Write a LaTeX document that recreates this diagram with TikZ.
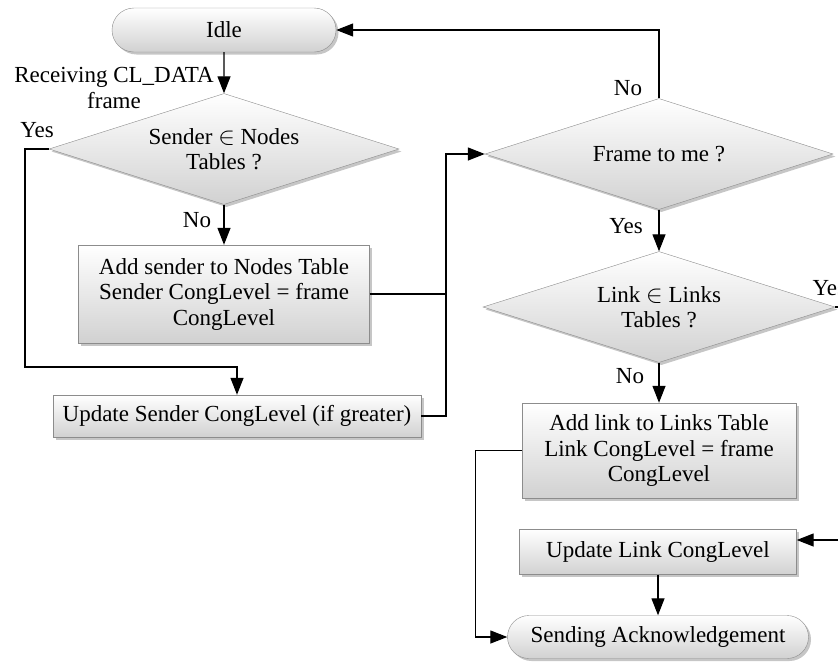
\documentclass[tikz,border=0pt]{standalone}
\usepackage{fontspec}
\setmainfont{Liberation Serif}
\usetikzlibrary{shapes.geometric, shapes.misc, arrows.meta, shadows}

\begin{document}
\begin{tikzpicture}[x=1pt, y=-1pt,
    font=\fontsize{23}{25.5}\selectfont,
    >={Triangle[length=17pt, width=13pt]},
    box/.style={rectangle, draw=black!45, top color=white, bottom color=black!18,
                drop shadow={shadow xshift=2.5pt, shadow yshift=-2.5pt, opacity=0.45},
                align=center, inner sep=0pt},
    term/.style={box, rounded rectangle},
    decision/.style={box, diamond, aspect=3.15},
    wire/.style={line width=1.3pt},
    flow/.style={wire, ->}]

    \useasboundingbox (0,0) rectangle (838,664);
    \clip (0,0) rectangle (838,664);

    % Left column
    \node[term, minimum width=224pt, minimum height=44pt] (idle) at (224,30) {Idle};
    \node[decision, minimum width=350pt, minimum height=111pt] (inNodes) at (224,149) {Sender $\in$ Nodes\\Tables ?};
    \node[box, minimum width=291pt, minimum height=98pt] (addSender) at (224,294) {Add sender to Nodes Table\\Sender CongLevel = frame\\CongLevel};
    \node[box, minimum width=368pt, minimum height=42pt] (updSender) at (237,416) {Update Sender CongLevel (if greater)};

    % Right column
    \node[decision, minimum width=348pt, minimum height=111pt] (toMe) at (659,154) {Frame to me ?};
    \node[decision, minimum width=352pt, minimum height=111pt] (inLinks) at (659,307) {Link $\in$ Links\\Tables ?};
    \node[box, minimum width=274pt, minimum height=95pt] (addLink) at (659,450.5) {Add link to Links Table\\Link CongLevel = frame\\CongLevel};
    \node[box, minimum width=277pt, minimum height=45pt] (updLink) at (658,552) {Update Link CongLevel};
    \node[term, minimum width=301pt, minimum height=43pt] (sendAck) at (658,637) {Sending Acknowledgement};

    % Labels
    \node[align=center] (recv) at (114,88) {Receiving CL\_DATA\\frame};
    \node (yesNodes) at (37,130) {Yes};
    \node (noNodes) at (197,220) {No};
    \node (noMe) at (628,88) {No};
    \node (yesMe) at (626,226) {Yes};
    \node[anchor=west] (yesLinks) at (809,288) {Yes};
    \node (noLinks) at (630,376) {No};

    % Connections
    \coordinate (yesTurn) at (25,367);
    \coordinate (merge) at (446,294);
    \coordinate (fromYes) at (838,540);

    \draw[flow] (idle) -- (inNodes);
    \draw[flow] (inNodes.west) -| (yesTurn) -| (updSender.north);
    \draw[flow] (inNodes) -- (addSender);
    \draw[wire] (updSender.east) -| (merge);
    \draw[flow] (addSender.east) -- (merge) |- (toMe.west);
    \draw[flow] (toMe.north) |- (idle.east);
    \draw[flow] (toMe) -- (inLinks);
    \draw[wire] (inLinks.east) -- ++(10,0);
    \draw[flow] (inLinks) -- (addLink);
    \draw[flow] (fromYes) -- (fromYes -| updLink.east);
    \draw[flow] (addLink.west) -- ++(-46,0) |- (sendAck.west);
    \draw[flow] (updLink) -- (sendAck);
\end{tikzpicture}
\end{document}
